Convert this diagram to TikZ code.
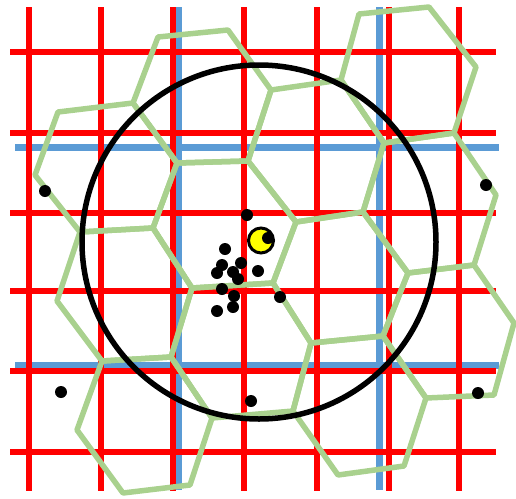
\documentclass[tikz,border=0pt]{standalone}
\definecolor{gridred}{RGB}{255,0,0}
\definecolor{gridblue}{RGB}{91,155,213}
\definecolor{hexgreen}{RGB}{169,209,142}
\definecolor{dotyellow}{RGB}{255,255,0}
\begin{document}
\begin{tikzpicture}[x=1pt,y=-1pt,
  redline/.style={gridred,line width=5.5pt},
  blueline/.style={gridblue,line width=7pt},
  hexcell/.style={hexgreen,line width=5.5pt,line join=round},
  bigring/.style={black,line width=5.5pt},
  blackdot/.style={fill=black}]
\useasboundingbox (0,0) rectangle (516,498);
% blue lines
\foreach \x in {178,379} \draw[blueline] (\x,7) -- (\x,490);
\foreach \y in {147,365} \draw[blueline] (15,\y) -- (499,\y);
% red grid
\foreach \x in {29,101,173,244,317,389,459} \draw[redline] (\x,7) -- (\x,491);
\foreach \y in {52,133,213,291,371,452} \draw[redline] (10,\y) -- (496,\y);
% hexagons
\draw[hexcell] (158,37) -- (228,30) -- (271,90) -- (248,161) -- (177,163) -- (133,103) -- cycle;
\draw[hexcell] (359,14) -- (429,7) -- (476,67) -- (454,133) -- (384,143) -- (341,80) -- cycle;
\draw[hexcell] (271,90) -- (341,80) -- (384,143) -- (363,212) -- (296,222) -- (248,161) -- cycle;
\draw[hexcell] (58,112) -- (133,103) -- (177,163) -- (153,228) -- (80,232) -- (35,175) -- cycle;
\draw[hexcell] (177,163) -- (248,161) -- (296,222) -- (273,283) -- (192,288) -- (153,228) -- cycle;
\draw[hexcell] (80,232) -- (153,228) -- (192,288) -- (171,357) -- (102,361) -- (57,301) -- cycle;
\draw[hexcell] (296,222) -- (363,212) -- (408,273) -- (383,336) -- (311,343) -- (273,283) -- cycle;
\draw[hexcell] (384,143) -- (454,133) -- (496,195) -- (474,265) -- (408,273) -- (363,212) -- cycle;
\draw[hexcell] (408,273) -- (474,265) -- (514,323) -- (494,395) -- (426,398) -- (383,336) -- cycle;
\draw[hexcell] (311,343) -- (383,336) -- (426,398) -- (404,466) -- (338,475) -- (293,411) -- cycle;
\draw[hexcell] (102,361) -- (171,357) -- (212,418) -- (190,485) -- (123,493) -- (77,430) -- cycle;
\draw[hexcell] (192,288) -- (273,283) -- (311,343) -- (293,411) -- (212,418) -- (171,357) -- cycle;
% big circle
\draw[bigring] (259,242) circle[radius=177];
% dots
\foreach \p in {(45,191),(486,185),(247,215),(225,249),(241,263),(222,265),(217,273),(233,272),(258,271),(238,279),(222,289),(234,296),(280,297),(233,307),(217,311),(61,392),(251,401),(478,393)}
  \fill[blackdot] \p circle[radius=6];
% yellow marker
\filldraw[fill=dotyellow,draw=black,line width=3pt] (261,240.5) circle[radius=12.5];
\fill[blackdot] (268,238) circle[radius=6];
\end{tikzpicture}
\end{document}
